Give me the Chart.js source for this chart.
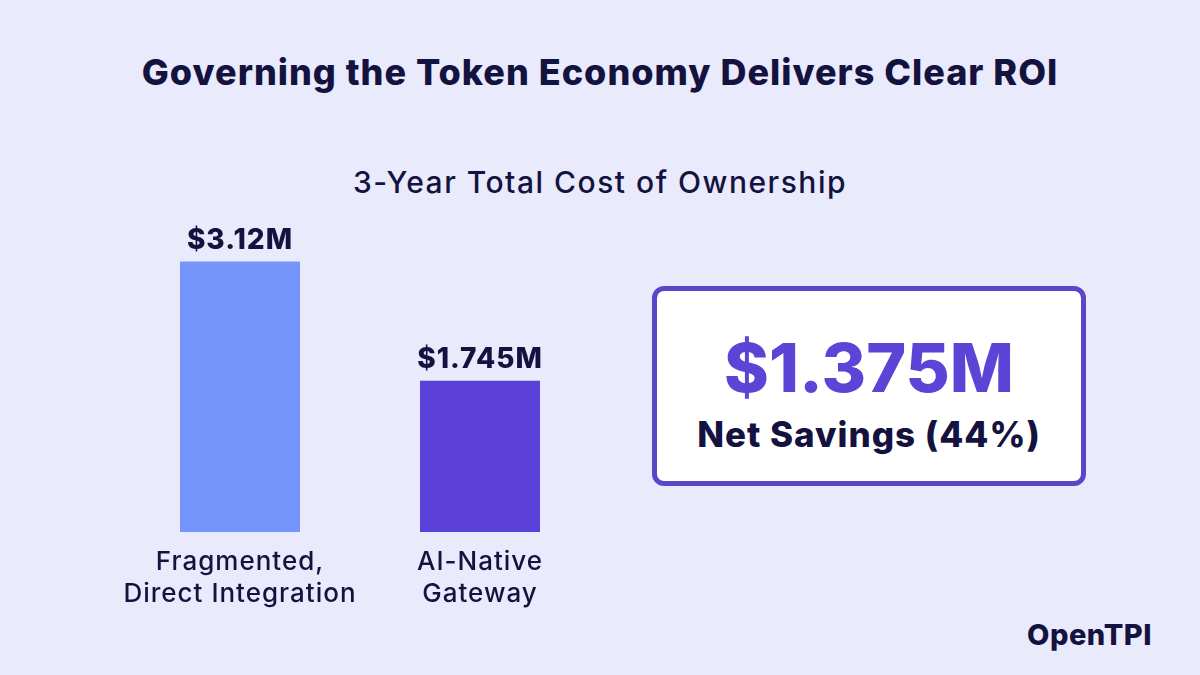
<!DOCTYPE html>
<html><head><meta charset="utf-8">
<script src="https://cdn.jsdelivr.net/npm/chart.js@4"></script>
<style>
body{margin:0;width:1200px;height:675px;background:#E9EAFB;font-family:Inter,"Open Sans",sans-serif;position:relative;overflow:hidden;color:#14133F}
.t{position:absolute;left:0;width:1200px;text-align:center}
#box{position:absolute;left:652px;top:286px;width:424px;height:190px;border:5px solid #5B45C8;border-radius:12px;background:#fff;text-align:center}
</style></head><body>
<div class="t" style="top:50px;font-size:36px;font-weight:800;letter-spacing:1px">Governing the Token Economy Delivers Clear ROI</div>
<div class="t" style="top:164px;font-size:30px;font-weight:500;letter-spacing:1.5px">3-Year Total Cost of Ownership</div>
<div style="position:absolute;left:120px;top:220px;width:480px;height:400px"><canvas id="c"></canvas></div>
<div id="box">
<div style="margin-top:42px;font-size:68px;font-weight:800;color:#5B45D6;line-height:1">$1.375M</div>
<div style="margin-top:16px;font-size:35px;font-weight:800;line-height:1;letter-spacing:1px">Net Savings (44%)</div>
</div>
<div style="position:absolute;right:48px;top:617px;font-size:29px;font-weight:800;letter-spacing:0.5px">OpenTPI</div>
<script>
const categories=[["Fragmented,","Direct Integration"],["AI-Native","Gateway"]];
const values=[3.12,1.745];
const valueLabels=["$3.12M","$1.745M"];
const colors=["#7595FB","#5B3FD9"];
const labelPlugin={id:"lbl",afterDatasetsDraw(ch){const c=ch.ctx;const m=ch.getDatasetMeta(0);c.save();c.textAlign="center";c.fillStyle="#14133F";
m.data.forEach((b,i)=>{c.letterSpacing="1px";c.font="800 28px Inter";c.textBaseline="bottom";c.fillText(valueLabels[i],b.x,b.y-7);
c.letterSpacing="1px";c.font="500 26px Inter";c.textBaseline="middle";categories[i].forEach((l,j)=>c.fillText(l,b.x,ch.chartArea.bottom+30+j*32));});c.restore();}};
new Chart(document.getElementById("c"),{type:"bar",data:{labels:categories.map(c=>c.join(" ")),datasets:[{data:values,backgroundColor:colors,categoryPercentage:0.5,barPercentage:1}]},
options:{responsive:true,maintainAspectRatio:false,animation:false,layout:{padding:{bottom:88}},plugins:{legend:{display:false},tooltip:{enabled:false}},
scales:{x:{display:false},y:{display:false,min:0,max:3.6}}},plugins:[labelPlugin]});
</script></body></html>
